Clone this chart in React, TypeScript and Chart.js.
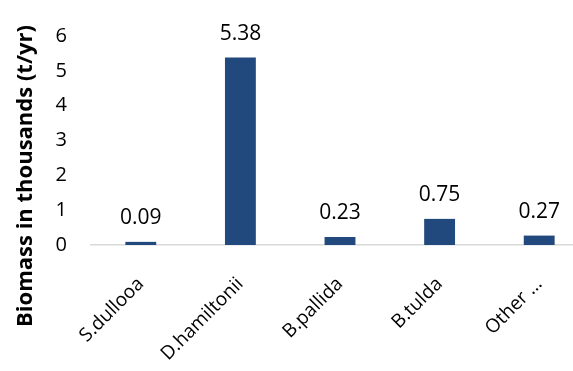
import { useEffect, useRef } from "react";
import { Chart, registerables } from "chart.js";

Chart.register(...registerables);

// Annual bamboo biomass by species
const species = ["S.dullooa", "D.hamiltonii", "B.pallida", "B.tulda", "Other …"];
const biomass = [0.09, 5.38, 0.23, 0.75, 0.27];
const yMin = 0;
const yMax = 6;
const yStep = 1;
const yTitle = "Biomass in thousands (t/yr)";

const FONT = "'Open Sans', 'Noto Sans', sans-serif";
const BAR_COLOR = "#22497D";
const TEXT_COLOR = "#000000";

// Writes each bar's value above it
const valueLabels = {
  id: "valueLabels",
  afterDatasetsDraw(chart: any) {
    const ctx = chart.ctx;
    const meta = chart.getDatasetMeta(0);
    ctx.save();
    ctx.font = `21px ${FONT}`;
    ctx.fillStyle = TEXT_COLOR;
    ctx.textAlign = "center";
    ctx.textBaseline = "alphabetic";
    meta.data.forEach((bar: any, i: number) => {
      ctx.fillText(biomass[i].toFixed(2), bar.x, bar.y - 18);
    });
    ctx.restore();
  },
};

// Vertical axis title
const sideTitle = {
  id: "sideTitle",
  afterDraw(chart: any) {
    const ctx = chart.ctx;
    ctx.save();
    ctx.translate(26, 176);
    ctx.rotate(-Math.PI / 2);
    ctx.font = `bold 22px ${FONT}`;
    ctx.fillStyle = TEXT_COLOR;
    ctx.textAlign = "center";
    ctx.textBaseline = "middle";
    ctx.fillText(yTitle, 0, 0);
    ctx.restore();
  },
};

export default function App() {
  const canvasRef = useRef<HTMLCanvasElement | null>(null);

  useEffect(() => {
    if (!canvasRef.current) return;
    const chart = new Chart(canvasRef.current, {
      type: "bar",
      data: {
        labels: species,
        datasets: [
          {
            data: biomass,
            backgroundColor: BAR_COLOR,
            barPercentage: 0.31,
            categoryPercentage: 1,
          },
        ],
      },
      options: {
        responsive: false,
        animation: false,
        layout: { padding: { top: 25, left: 55, right: 11, bottom: 0 } },
        plugins: {
          legend: { display: false },
          tooltip: { enabled: false },
        },
        scales: {
          x: {
            grid: { display: false, drawTicks: false },
            border: { display: true, color: "#D9D9D9", width: 1.5 },
            afterFit(scale: any) {
              scale.paddingLeft = 0;
              scale.paddingRight = 0;
              scale.height = 126;
            },
            ticks: {
              autoSkip: false,
              maxRotation: 45,
              minRotation: 45,
              padding: 28,
              color: TEXT_COLOR,
              font: { family: FONT, size: 19 },
            },
          },
          y: {
            min: yMin,
            max: yMax,
            grid: { display: false, drawTicks: false },
            border: { display: false },
            afterFit(scale: any) {
              scale.width = 36;
            },
            ticks: {
              stepSize: yStep,
              padding: 24,
              color: TEXT_COLOR,
              font: { family: FONT, size: 20 },
            },
          },
        },
      },
      plugins: [valueLabels, sideTitle],
    });
    return () => chart.destroy();
  }, []);

  return (
    <div
      style={{
        position: "fixed",
        left: 0,
        top: 0,
        width: 573,
        height: 371,
        overflow: "hidden",
        background: "#ffffff",
      }}
    >
      <canvas ref={canvasRef} width={600} height={371} style={{ display: "block" }} />
    </div>
  );
}
